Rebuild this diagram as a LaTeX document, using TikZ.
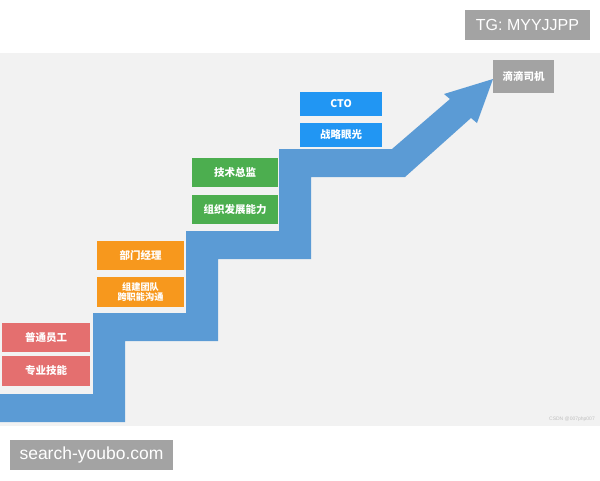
\documentclass[tikz,border=0pt]{standalone}
\usepackage{fontspec}
\setmainfont{Liberation Sans}
\newfontfamily\cjk{Noto Sans CJK SC}
\definecolor{bgc}{HTML}{F2F2F2}
\definecolor{stair}{HTML}{5B9BD5}
\definecolor{cred}{HTML}{E46F6F}
\definecolor{corange}{HTML}{F7981D}
\definecolor{cgreen}{HTML}{4CAE4F}
\definecolor{cblue}{HTML}{2196F3}
\definecolor{cgray}{HTML}{A3A3A3}
\tikzset{
  lbl/.style={rectangle, inner sep=0pt, outer sep=0pt, text=white, align=center,
    font=\cjk\bfseries\fontsize{10.5}{12}\selectfont},
  wm/.style={rectangle, inner sep=0pt, fill=cgray, text=white,
    font=\fontsize{16}{18}\selectfont}
}
\begin{document}
\begin{tikzpicture}[x=1pt,y=-1pt]
\useasboundingbox (0,0) rectangle (600,480);
\fill[white] (0,0) rectangle (600,480);
\fill[bgc] (0,53) rectangle (600,426);
% staircase arrow
\fill[stair] (0,394) -- (93,394) -- (93,313) -- (186,313) -- (186,231) -- (279,231)
  -- (279,149) -- (392,149) -- (450,99) -- (444,94) -- (493,79) -- (477,123)
  -- (471,118) -- (405,177) -- (311,177) -- (311,259) -- (218,259) -- (218,341)
  -- (125,341) -- (125,422) -- (0,422) -- cycle;
% boxes
\node[lbl, fill=cred, minimum width=88pt, minimum height=29pt] (p1) at (46,337.5) {普通员工};
\node[lbl, fill=cred, minimum width=88pt, minimum height=30pt] (p2) at (46,371) {专业技能};
\node[lbl, fill=corange, minimum width=87pt, minimum height=29pt] (m1) at (140.5,255.5) {部门经理};
\node[lbl, fill=corange, minimum width=87pt, minimum height=30pt,
  font=\cjk\bfseries\fontsize{9.2}{10.5}\selectfont] (m2) at (140.5,292) {组建团队\\跨职能沟通};
\node[lbl, fill=cgreen, minimum width=86pt, minimum height=29pt] (d1) at (235,172.5) {技术总监};
\node[lbl, fill=cgreen, minimum width=86pt, minimum height=29pt] (d2) at (235,209.5) {组织发展能力};
\node[lbl, fill=cblue, minimum width=82pt, minimum height=24pt] (c1) at (341,104) {CTO};
\node[lbl, fill=cblue, minimum width=82pt, minimum height=24pt] (c2) at (341,135) {战略眼光};
\node[lbl, fill=cgray, minimum width=61pt, minimum height=33pt] (dd) at (523.5,76.5) {滴滴司机};
% watermarks
\node[wm, minimum width=125pt, minimum height=30pt] (tg) at (527.5,25) {TG: MYYJJPP};
\node[wm, minimum width=163pt, minimum height=30pt, font=\fontsize{17.5}{19}\selectfont] (sy) at (91.5,455) {search-youbo.com};
\node[inner sep=0pt, anchor=east, text=black!25, font=\fontsize{5}{6}\selectfont] (csdn) at (595,419) {CSDN @007php007};
\end{tikzpicture}
\end{document}
